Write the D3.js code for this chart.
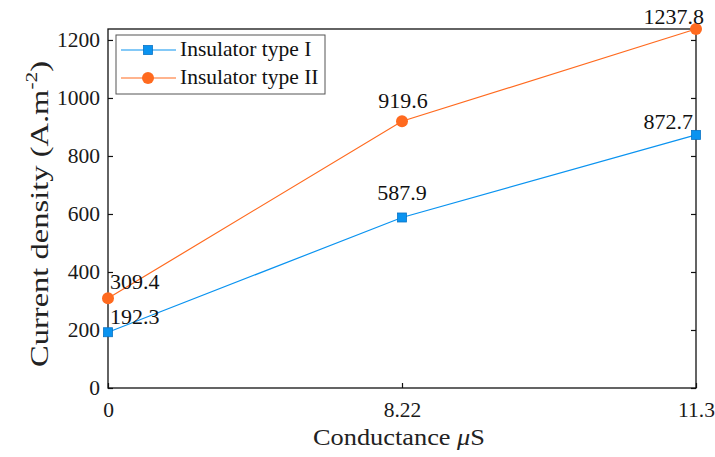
<!DOCTYPE html>
<html>
<head>
<meta charset="utf-8">
<script src="https://cdn.jsdelivr.net/npm/d3@7"></script>
<style>
  body { margin: 0; background: #fff; }
</style>
</head>
<body>
<div id="container"></div>
<script>
/* DATA */
const conductance = ["0", "8.22", "11.3"];
const typeI = [192.3, 587.9, 872.7];
const typeII = [309.4, 919.6, 1237.8];
const yTicks = [0, 200, 400, 600, 800, 1000, 1200];
const seriesNames = ["Insulator type I", "Insulator type II"];

/* CONSTANTS */
const width = 715, height = 457,
  margin = { top: 29, bottom: 69, left: 108, right: 19 };

const serif = "'Liberation Serif', 'Times New Roman', serif";
const blue = "#0a93f0", blueDark = "#0b73c4", orange = "#ff6a1f";

const svg = d3.select("#container").append("svg")
  .attr("width", width)
  .attr("height", height)
  .attr("font-family", serif);

/* SCALES */
const xScale = d3.scalePoint()
  .domain(conductance)
  .range([margin.left, width - margin.right])
  .padding(0);

const yScale = d3.scaleLinear()
  .domain([0, d3.max(typeII)])
  .range([height - margin.bottom, margin.top]);

// frame
svg.append("rect")
  .attr("x", margin.left)
  .attr("y", margin.top)
  .attr("width", width - margin.left - margin.right)
  .attr("height", height - margin.top - margin.bottom)
  .attr("fill", "none")
  .attr("stroke", "#111")
  .attr("stroke-width", 1.3);

// axes (ticks pointing inward)
svg.append("g")
  .attr("transform", `translate(0,${height - margin.bottom})`)
  .call(d3.axisBottom(xScale).tickSizeInner(-5).tickSizeOuter(0).tickPadding(14));

svg.append("g")
  .attr("transform", `translate(${margin.left},0)`)
  .call(d3.axisLeft(yScale).tickValues(yTicks).tickFormat(d3.format("d"))
    .tickSizeInner(-5).tickSizeOuter(0).tickPadding(8));

// mirrored ticks on the right
svg.append("g")
  .attr("transform", `translate(${width - margin.right},0)`)
  .call(d3.axisRight(yScale).tickValues(yTicks).tickSizeInner(-5).tickSizeOuter(0).tickFormat(""));

svg.selectAll(".domain").remove();
svg.selectAll("g").attr("font-family", serif).attr("font-size", 21.5);
svg.selectAll(".tick line").attr("stroke", "#111").attr("stroke-width", 1.2);
svg.selectAll(".tick text").attr("fill", "#1a1a1a");

// axis titles
svg.append("text")
  .attr("x", 399)
  .attr("y", 445)
  .attr("text-anchor", "middle")
  .attr("font-size", 23)
  .attr("fill", "#222")
  .attr("textLength", 172)
  .attr("lengthAdjust", "spacingAndGlyphs")
  .html('Conductance <tspan font-style="italic">μ</tspan>S');

svg.append("text")
  .attr("transform", `translate(48,214) rotate(-90)`)
  .attr("text-anchor", "middle")
  .attr("font-size", 26)
  .attr("fill", "#222")
  .attr("textLength", 306)
  .attr("lengthAdjust", "spacingAndGlyphs")
  .html('Current density (A.m<tspan dy="-11" font-size="17">-2</tspan><tspan dy="11">)</tspan>');

/* LINES */
const line = d3.line()
  .x((d, i) => xScale(conductance[i]))
  .y(d => yScale(d));

svg.append("path").datum(typeI)
  .attr("d", line).attr("fill", "none").attr("stroke", blue).attr("stroke-width", 1.2);
svg.append("path").datum(typeII)
  .attr("d", line).attr("fill", "none").attr("stroke", orange).attr("stroke-width", 1.2);

// markers
svg.selectAll(".sq").data(typeI).join("rect")
  .attr("x", (d, i) => xScale(conductance[i]) - 4.5)
  .attr("y", d => yScale(d) - 4.5)
  .attr("width", 9).attr("height", 9)
  .attr("fill", blue).attr("stroke", blueDark).attr("stroke-width", 0.8);

svg.selectAll(".dot").data(typeII).join("circle")
  .attr("cx", (d, i) => xScale(conductance[i]))
  .attr("cy", d => yScale(d))
  .attr("r", 6)
  .attr("fill", orange);

// value labels: [dx, dy, anchor]
const labelOffsets = {
  I: [[2, -8, "start"], [0, -17, "middle"], [-3, -6, "end"]],
  II: [[2, -9, "start"], [1, -13, "middle"], [8, -5, "end"]]
};
svg.selectAll(".lab1").data(typeI).join("text")
  .attr("x", (d, i) => xScale(conductance[i]) + labelOffsets.I[i][0])
  .attr("y", (d, i) => yScale(d) + labelOffsets.I[i][1])
  .attr("text-anchor", (d, i) => labelOffsets.I[i][2])
  .attr("font-size", 22)
  .attr("fill", "#111")
  .text(d => d.toFixed(1));

svg.selectAll(".lab2").data(typeII).join("text")
  .attr("x", (d, i) => xScale(conductance[i]) + labelOffsets.II[i][0])
  .attr("y", (d, i) => yScale(d) + labelOffsets.II[i][1])
  .attr("text-anchor", (d, i) => labelOffsets.II[i][2])
  .attr("font-size", 22)
  .attr("fill", "#111")
  .text(d => d.toFixed(1));

/* LEGEND */
const legend = svg.append("g").attr("transform", "translate(116,35)");
legend.append("rect")
  .attr("width", 209).attr("height", 59)
  .attr("fill", "#fff").attr("stroke", "#555").attr("stroke-width", 1);

seriesNames.forEach((name, i) => {
  const y = 15 + i * 28;
  const color = i === 0 ? blue : orange;
  legend.append("line")
    .attr("x1", 5).attr("x2", 60).attr("y1", y).attr("y2", y)
    .attr("stroke", color).attr("stroke-width", 1.2);
  if (i === 0) {
    legend.append("rect")
      .attr("x", 27.5).attr("y", y - 4.5).attr("width", 9).attr("height", 9)
      .attr("fill", blue).attr("stroke", blueDark).attr("stroke-width", 0.8);
  } else {
    legend.append("circle").attr("cx", 32).attr("cy", y).attr("r", 6).attr("fill", orange);
  }
  legend.append("text")
    .attr("x", 64).attr("y", y + 6)
    .attr("font-size", 21.5)
    .attr("fill", "#111")
    .text(name);
});
</script>
</body>
</html>
